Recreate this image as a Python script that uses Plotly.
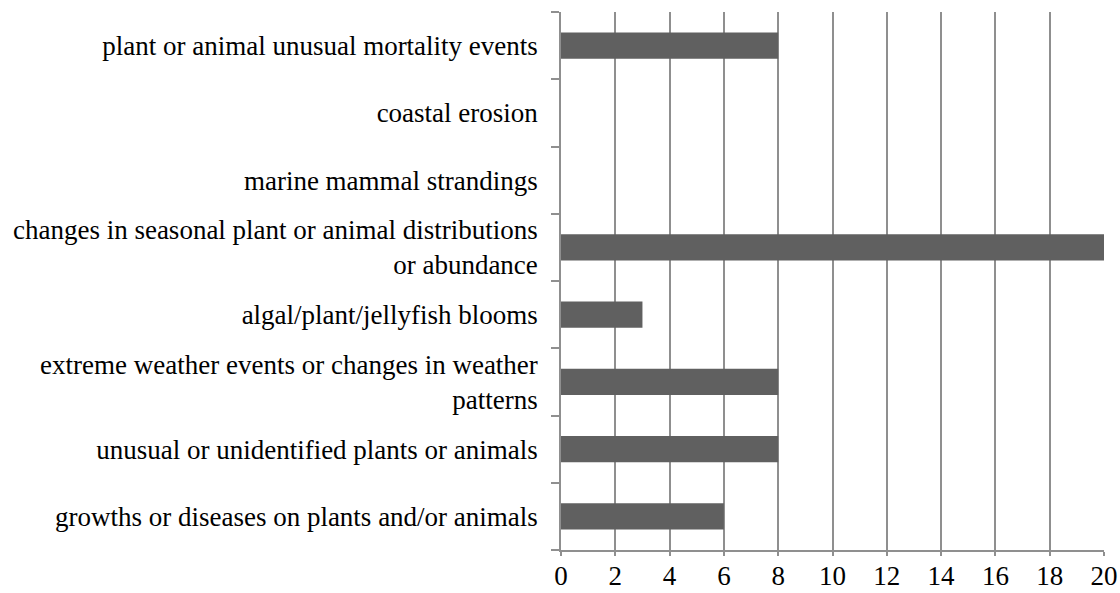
"""Horizontal bar chart: observed coastal changes (counts)."""
import plotly.graph_objects as go

CATEGORIES = [
    "growths or diseases on plants and/or animals",
    "unusual or unidentified plants or animals",
    "extreme weather events or changes in weather<br>patterns",
    "algal/plant/jellyfish blooms",
    "changes in seasonal plant or animal distributions<br>or abundance",
    "marine mammal strandings",
    "coastal erosion",
    "plant or animal unusual mortality events",
]
COUNTS = [6, 8, 8, 3, 20, 0, 0, 8]
X_TICKS = list(range(0, 21, 2))

BAR = "#606060"
GRID = "#8f8f8f"
FONT = dict(family="'Times New Roman', 'Liberation Serif', serif", size=27, color="black")

fig = go.Figure(go.Bar(
    x=COUNTS, y=CATEGORIES, orientation="h",
    marker=dict(color=BAR, line=dict(width=0)),
))

fig.update_layout(
    width=1120, height=593,
    margin=dict(l=561, r=16, t=12, b=43),
    plot_bgcolor="white", paper_bgcolor="white",
    bargap=0.61, showlegend=False, font=FONT,
)
fig.update_xaxes(
    range=[0, 20], tickvals=X_TICKS, showgrid=True, gridcolor=GRID, gridwidth=1.5,
    showline=True, linecolor=GRID, linewidth=1.5, ticks="outside", ticklen=4,
    tickcolor=GRID, tickwidth=1.5, zeroline=False, automargin=False, tickfont=FONT,
    ticklabelstandoff=-3,
)
fig.update_yaxes(
    showgrid=False, showline=True, linecolor=GRID, linewidth=1.5,
    ticks="outside", tickson="boundaries", ticklen=8, tickcolor=GRID, tickwidth=1.5,
    automargin=False, tickfont=FONT, ticklabelstandoff=16,
)

# the page's default body margin would shift the figure by 8px
fig.write_html("out.html", config={"displayModeBar": False},
               post_script="document.body.style.margin='0';")
